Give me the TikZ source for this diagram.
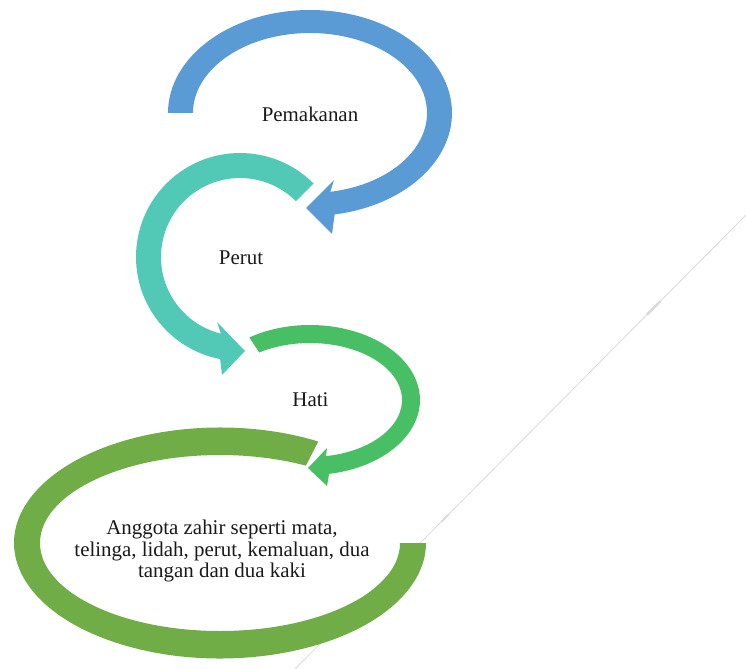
\documentclass[tikz,border=0pt]{standalone}
\usepackage{fontspec}
\setmainfont{Liberation Serif}
\usetikzlibrary{calc}
\definecolor{arcblue}{HTML}{5B9BD5}
\definecolor{arcteal}{HTML}{52C9B7}
\definecolor{arcgreen}{HTML}{49BF65}
\definecolor{arcolive}{HTML}{70AD47}
\definecolor{faintgray}{HTML}{D9D9D9}

\begin{document}
\begin{tikzpicture}[x=1bp, y=-1bp,
  txt/.style={font=\fontsize{21}{21.5}\selectfont, text=black!90, inner sep=0pt},
  faint/.style={faintgray, line width=0.8bp}]
\useasboundingbox (0,0) rectangle (746,669);
\coordinate (pc) at (310,113);
\coordinate (uc) at (240,257);
\coordinate (hc) at (310,400);
\coordinate (ac) at (220,543);
% faint diagonal line, behind everything
\coordinate (ln a) at (746,215);
\coordinate (ln b) at (295,669);
\draw [faint] (ln a) -- (ln b);
\draw [faint, line width=2.5bp] ($(ln a)!0.19!(ln b)$) -- ($(ln a)!0.22!(ln b)$);
\draw [faint, line width=1.8bp] ($(ln a)!0.66!(ln b)$) -- ($(ln a)!0.675!(ln b)$);
\begin {scope} [arcblue]
  \fill (pc) ++(180:142 and 103) arc [start angle=180, end angle=440, x radius=142, y radius=103]
    -- (332,234) -- (306,208) -- (334,180)
    -- ($(pc)+(80:117 and 80)$) arc [start angle=80, end angle=-180, x radius=117, y radius=80] -- cycle;
\end {scope}
\begin {scope} [arcteal]
  \fill (uc) ++(-45:104) arc [start angle=-45, end angle=-259, radius=104]
    -- (222,375) -- (245,351) -- (217,322)
    -- ($(uc)+(104:79)$) arc [start angle=-256, end angle=-45, radius=79] -- cycle;
\end {scope}
\begin {scope} [arcgreen]
  \fill (hc) ++(-123.5:110 and 75) arc [start angle=-123.5, end angle=80, x radius=110, y radius=75]
    -- (327,486) -- (308,468) -- (327,448)
    -- ($(hc)+(80:92 and 57)$) arc [start angle=80, end angle=-123.5, x radius=92, y radius=57] -- cycle;
\end {scope}
\begin {scope} [arcolive]
  \fill (ac) ++(-61.5:206 and 115.5) arc [start angle=-61.5, end angle=-360, x radius=206, y radius=115.5]
    -- ($(ac)+(180,0)$) arc [start angle=0, end angle=298.5, x radius=180, y radius=88] -- cycle;
\end {scope}
\node (pemakanan) [txt, anchor=base] at (310,121.5) {Pemakanan};
\node (perut) [txt, anchor=base] at (241,264) {Perut};
\node (hati) [txt, anchor=base] at (310.5,406.5) {Hati};
\node (anggota) [txt, align=center] at (222,551)
  {Anggota zahir seperti mata,\\telinga, lidah, perut, kemaluan, dua\\tangan dan dua kaki};
\end{tikzpicture}
\end{document}
